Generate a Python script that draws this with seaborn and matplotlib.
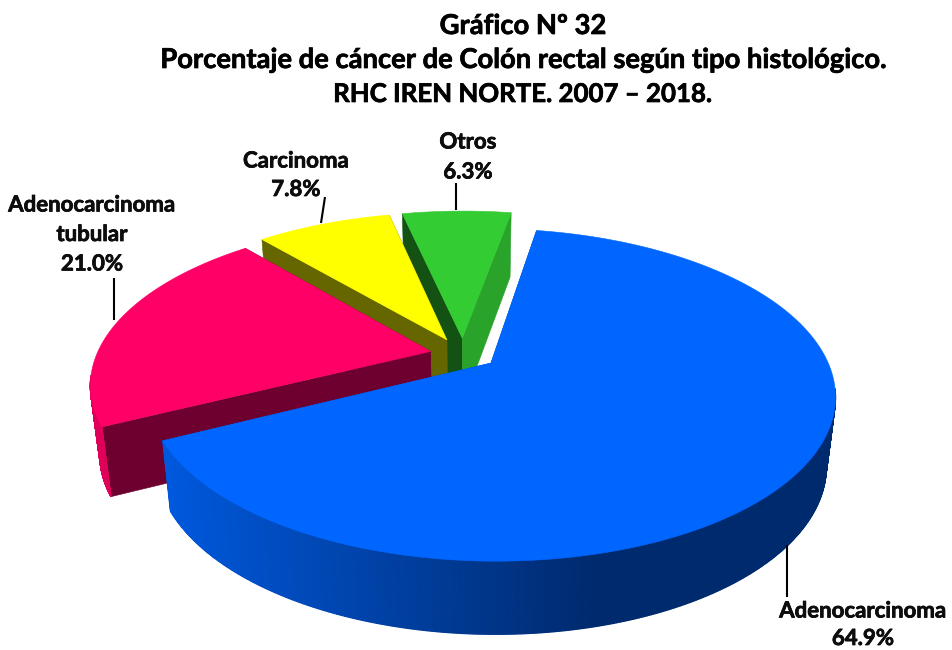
import numpy as np
import matplotlib
matplotlib.use("Agg")
import matplotlib.pyplot as plt
import matplotlib.patheffects as pe
import seaborn as sns
from matplotlib.patches import Polygon

# Data
categories = ["Adenocarcinoma", "Adenocarcinoma\ntubular", "Carcinoma", "Otros"]
values = [64.9, 21.0, 7.8, 6.3]
title_lines = ["Gráfico Nº 32",
               "Porcentaje de cáncer de Colón rectal según tipo histológico.",
               "RHC IREN NORTE. 2007 – 2018."]

# Style
top_colors = ["#0066FF", "#FF0066", "#FFFF00", "#33CC33"]
rim_dark = ["#002A6E", "#C00050", "#999900", "#29A329"]
rim_light = ["#0058DC", "#E0005A", "#C8C800", "#29A329"]
cut_start = ["#0050C0", "#6E0030", "#666600", "#145214"]   # radial face at slice start
cut_end = ["#0050C0", "#6E0030", "#666600", "#29A329"]     # radial face at slice end
explode = [0.085, 0.115, 0.11, 0.11]
explode_dx = [0.0, 0.0, -0.015, -0.015]
draw_order = [3, 2, 1, 0]
START = 10.0
CX, CY, RX, RY, K = 468.0, 355.0, 334.0, 157.0, 0.19
DEPTH, RXB, RYB = 68.0, 0.975, 1.025
title_sizes = [19.7, 19.7, 18.6]

sns.set_theme(style="white")
plt.rcParams["font.family"] = ["Lato", "DejaVu Sans"]

fig = plt.figure(figsize=(9.52, 6.5), dpi=100, facecolor="white")
ax = fig.add_axes([0, 0, 1, 1])
ax.set_xlim(0, 952)
ax.set_ylim(650, 0)
ax.axis("off")


def project(u, v, bottom=False):
    d = 1 + K * v
    if bottom:
        return CX + RX * RXB * u / d, CY + DEPTH - RY * RYB * v / d
    return CX + RX * u / d, CY - RY * v / d


def ground(theta_deg, r, off):
    t = np.radians(theta_deg)
    return r * np.sin(t) + off[0], r * np.cos(t) + off[1]


def poly(xy, color, z, lw=0.4):
    ax.add_patch(Polygon(xy, closed=True, facecolor=color, edgecolor=color,
                         linewidth=lw, zorder=z))


shares = np.array(values) / np.sum(values) * 360
edges = START + np.concatenate([[0], np.cumsum(shares)])

z = 1
for i in draw_order:
    a0, a1 = edges[i], edges[i + 1]
    mid = np.radians((a0 + a1) / 2)
    off = (explode[i] * np.sin(mid) + explode_dx[i], explode[i] * np.cos(mid))
    th = np.linspace(a0, a1, 721)
    u, v = ground(th, 1.0, off)
    xt, yt = project(u, v)
    xb, yb = project(u, v, bottom=True)
    xa, ya = project(off[0], off[1])
    xab, yab = project(off[0], off[1], bottom=True)

    # radial cut faces
    poly([(xa, ya), (xt[0], yt[0]), (xb[0], yb[0]), (xab, yab)], cut_start[i], z); z += 1
    poly([(xa, ya), (xt[-1], yt[-1]), (xb[-1], yb[-1]), (xab, yab)], cut_end[i], z); z += 1

    # rim, front-facing part only, shaded from left (light) to right (dark)
    ramp = sns.blend_palette([rim_light[i], rim_dark[i]], n_colors=256)
    span = (xt - xt.min()) / max(xt.max() - xt.min(), 1)
    if i == 0:
        span = np.clip((xt - 165) / 430, 0, 1)
    cosine = np.cos(np.radians(th))
    for j in range(len(th) - 1):
        if cosine[j] > -0.15:
            continue
        c = ramp[int(span[j] * 255)]
        poly([(xt[j], yt[j]), (xt[j + 1], yt[j + 1]),
              (xb[j + 1], yb[j + 1]), (xb[j], yb[j])], c, z, lw=0.9)
    z += 1

    # top face
    poly(list(zip(xt, yt)) + [(xa, ya)], top_colors[i], z); z += 1

# Leader lines
for (x0, y0, x1, y1) in [(787, 545, 787, 597), (114, 278, 114, 320),
                         (325, 197, 321, 223), (456, 183, 456, 210)]:
    ax.plot([x0, x1], [y0, y1], color="black", lw=1.5, zorder=50,
            solid_capstyle="butt")

heavy = [pe.withStroke(linewidth=0.5, foreground="black")]

# Labels
label_pos = [(863, 611), (92, 205), (296, 161), (468, 142)]
label_gap = [27.5, 29.5, 28.5, 30]
for name, val, (x, y), gap in zip(categories, values, label_pos, label_gap):
    parts = name.split("\n") + [f"{val:.1f}%"]
    for k, line in enumerate(parts):
        ax.text(x, y + k * gap, line, ha="center", va="center", fontsize=16,
                fontweight="bold", color="#0d0d0d", zorder=60, path_effects=heavy)

# Title
for line, y, fs in zip(title_lines, [26, 60, 94], title_sizes):
    ax.text(523, y, line, ha="center", va="center", fontsize=fs,
            fontweight="bold", color="black", zorder=60, path_effects=heavy)

fig.savefig("out.png", dpi=100, facecolor="white")
